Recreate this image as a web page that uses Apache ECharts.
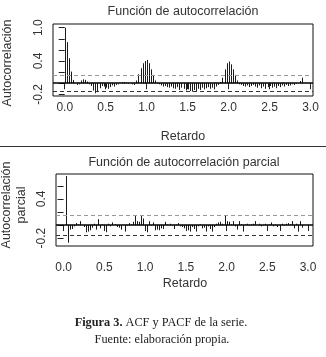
<!DOCTYPE html>
<html>
<head>
<meta charset="utf-8">
<script src="https://cdn.jsdelivr.net/npm/echarts@6/dist/echarts.min.js"></script>
<style>
html,body{margin:0;padding:0;background:#fff;}
#chart{width:326px;height:357px;}
</style>
</head>
<body>
<div id="chart"></div>
<script>
// ---- data ----
const lagFrequency = 40; // lags per unit of "Retardo"
// ACF, lags 0..116
const acfValues = [
  1.0, 0.74, 0.45, 0.21, 0.06, 0.0, -0.03, -0.02, 0.05, 0.07,
  0.06, 0.03, -0.02, -0.05, -0.13, -0.18, -0.16, -0.09, -0.05, -0.06,
  -0.08, -0.1, -0.07, -0.04, -0.06, -0.03, -0.02, 0.0, 0.02, 0.02,
  0.01, -0.01, 0.0, -0.02, -0.03, 0.05, 0.16, 0.27, 0.36, 0.40,
  0.42, 0.36, 0.25, 0.15, 0.05, 0.01, -0.02, -0.04, -0.06, -0.05,
  -0.07, -0.08, -0.06, -0.09, -0.1, -0.07, -0.12, -0.08, -0.1, -0.13,
  -0.11, -0.14, -0.15, -0.12, -0.14, -0.1, -0.12, -0.08, -0.11, -0.09,
  -0.07, -0.1, -0.08, -0.11, -0.06, -0.03, 0.02, 0.1, 0.25, 0.36,
  0.39, 0.34, 0.25, 0.15, 0.05, -0.02, -0.03, -0.05, -0.06, -0.04,
  -0.07, -0.05, -0.03, -0.06, -0.08, -0.04, -0.09, -0.06, -0.1, -0.07,
  -0.05, -0.08, -0.06, -0.09, -0.05, -0.07, -0.04, -0.06, -0.03, -0.05,
  -0.04, -0.02, -0.03, -0.01, 0.0, 0.04, 0.1
];
// PACF, lags 1..117
const pacfValues = [
  0.75, -0.27, -0.07, -0.06, -0.02, 0.03, 0.01, 0.06, 0.0, -0.03,
  -0.11, -0.1, -0.08, -0.04, 0.02, -0.07, 0.09, -0.05, 0.01, -0.03,
  -0.11, 0.02, -0.02, 0.04, 0.01, -0.03, -0.04, -0.07, 0.0, -0.1,
  -0.01, 0.03, 0.01, 0.05, 0.15, 0.06, 0.05, 0.15, 0.1, -0.02,
  -0.11, 0.06, -0.01, 0.04, -0.08, -0.07, -0.08, -0.05, -0.06, 0.05,
  0.01, 0.02, -0.01, -0.06, 0.01, 0.03, -0.02, -0.03, -0.05, -0.04,
  -0.08, -0.1, -0.03, -0.06, -0.1, -0.02, 0.01, -0.05, -0.04, -0.1,
  -0.02, -0.06, -0.1, -0.03, 0.02, 0.04, 0.05, 0.02, 0.14, 0.06,
  0.05, 0.01, 0.06, -0.02, -0.07, 0.06, 0.01, -0.1, 0.01, 0.02,
  -0.01, 0.01, 0.02, 0.06, 0.0, 0.02, -0.02, -0.01, 0.02, -0.02,
  0.01, 0.04, -0.02, 0.01, -0.03, -0.09, 0.02, -0.01, 0.02, 0.03,
  0.01, 0.06, -0.05, 0.02, -0.1, 0.06, -0.04
];
const acfConfidence = 0.14;
const pacfConfidence = 0.15;
const xTickValues = [0, 0.5, 1.0, 1.5, 2.0, 2.5, 3.0];
const acfYTicks = [-0.2, 0, 0.2, 0.4, 0.6, 0.8, 1.0];
const acfYLabels = [-0.2, 0.4, 1.0];
const pacfYTicks = [-0.2, 0, 0.2, 0.4, 0.6];
const pacfYLabels = [-0.2, 0.4];

const acfTitle = 'Función de autocorrelación';
const pacfTitle = 'Función de autocorrelación parcial';
const xName = 'Retardo';
const acfYName = 'Autocorrelación';
const pacfYName = 'Autocorrelación\nparcial';

// ---- build ----
const acfData = acfValues.map((v, i) => [i / lagFrequency, v]);
const pacfData = pacfValues.map((v, i) => [(i + 1) / lagFrequency, v]);

const FONT = '"Liberation Sans", Arial, sans-serif';
const SERIF = '"Liberation Serif", "Times New Roman", serif';
const TXT = '#333';

function renderStick(params, api) {
  const p0 = api.coord([api.value(0), 0]);
  const p1 = api.coord([api.value(0), api.value(1)]);
  const x = Math.round(p0[0]) + 0.5;
  return {
    type: 'line',
    shape: { x1: x, y1: p0[1], x2: x, y2: p1[1] },
    style: { stroke: '#1a1a1a', lineWidth: 1 }
  };
}

function refLines(conf) {
  return {
    silent: true,
    symbol: ['none', 'none'],
    label: { show: false },
    animation: false,
    data: [
      { yAxis: 0, lineStyle: { color: '#000', width: 1.5, type: 'solid' } },
      { yAxis: conf, lineStyle: { color: '#999', width: 1, type: [4, 3] } },
      { yAxis: -conf, lineStyle: { color: '#333', width: 1, type: [4, 3] } }
    ]
  };
}

function xAxisCfg(gridIndex, min, max, margin) {
  return {
    type: 'value', gridIndex, min, max,
    axisLine: { show: false },
    splitLine: { show: false },
    axisTick: { show: true, inside: false, length: 6, customValues: xTickValues, lineStyle: { color: '#222', width: 1 } },
    axisLabel: { customValues: xTickValues, formatter: v => v.toFixed(1), color: TXT, fontFamily: FONT, fontSize: 12, margin }
  };
}
function yAxisCfg(gridIndex, min, max, ticks, labels) {
  return {
    type: 'value', gridIndex, min, max,
    axisLine: { show: false },
    splitLine: { show: false },
    axisTick: { show: true, inside: false, length: 6, customValues: ticks, lineStyle: { color: '#222', width: 1 } },
    axisLabel: { customValues: labels, rotate: 90, formatter: v => v.toFixed(1), color: TXT, fontFamily: FONT, fontSize: 12, margin: 8 }
  };
}

const chart = echarts.init(document.getElementById('chart'), null, { renderer: 'canvas' });
chart.setOption({
  backgroundColor: '#fff',
  animation: false,
  grid: [
    { left: 53, top: 24, width: 260, height: 72, show: true, borderColor: '#111', borderWidth: 1, backgroundColor: 'transparent' },
    { left: 56, top: 174, width: 257, height: 72, show: true, borderColor: '#111', borderWidth: 1, backgroundColor: 'transparent' }
  ],
  xAxis: [
    xAxisCfg(0, -0.143, 3.03, 6),
    xAxisCfg(1, -0.093, 3.061, 16)
  ],
  yAxis: [
    yAxisCfg(0, -0.23, 1.067, acfYTicks, acfYLabels),
    yAxisCfg(1, -0.32, 0.78, pacfYTicks, pacfYLabels)
  ],
  series: [
    { type: 'custom', xAxisIndex: 0, yAxisIndex: 0, data: acfData, renderItem: renderStick, markLine: refLines(acfConfidence), silent: true },
    { type: 'custom', xAxisIndex: 1, yAxisIndex: 1, data: pacfData, renderItem: renderStick, markLine: refLines(pacfConfidence), silent: true }
  ],
  graphic: [
    { type: 'text', x: 183, y: 12, style: { text: acfTitle, fill: TXT, font: '12.5px ' + FONT, textAlign: 'center', textVerticalAlign: 'middle' } },
    { type: 'text', x: 8, y: 63, rotation: Math.PI / 2, style: { text: acfYName, fill: TXT, font: '12.5px ' + FONT, textAlign: 'center', textVerticalAlign: 'middle' } },
    { type: 'text', x: 183, y: 137, style: { text: xName, fill: TXT, font: '12.5px ' + FONT, textAlign: 'center', textVerticalAlign: 'middle' } },
    { type: 'line', shape: { x1: 0, y1: 146.5, x2: 326, y2: 146.5 }, style: { stroke: '#333', lineWidth: 1 } },
    { type: 'text', x: 184, y: 163, style: { text: pacfTitle, fill: TXT, font: '12.5px ' + FONT, textAlign: 'center', textVerticalAlign: 'middle' } },
    { type: 'text', x: 14.5, y: 205, rotation: Math.PI / 2, style: { text: pacfYName, fill: TXT, font: '12.5px ' + FONT, lineHeight: 15, textAlign: 'center', textVerticalAlign: 'middle' } },
    { type: 'text', x: 185, y: 284, style: { text: xName, fill: TXT, font: '12.5px ' + FONT, textAlign: 'center', textVerticalAlign: 'middle' } },
    { type: 'text', x: 161, y: 323, style: {
        text: '{b|Figura 3.} ACF y PACF de la serie.', fill: '#222', font: '12.3px ' + SERIF,
        textAlign: 'center', textVerticalAlign: 'middle',
        rich: { b: { fontWeight: 'bold', fontFamily: SERIF, fontSize: 12.3, fill: '#222' } }
    } },
    { type: 'text', x: 162, y: 340, style: { text: 'Fuente: elaboración propia.', fill: '#222', font: '12.3px ' + SERIF, textAlign: 'center', textVerticalAlign: 'middle' } }
  ]
});
</script>
</body>
</html>
